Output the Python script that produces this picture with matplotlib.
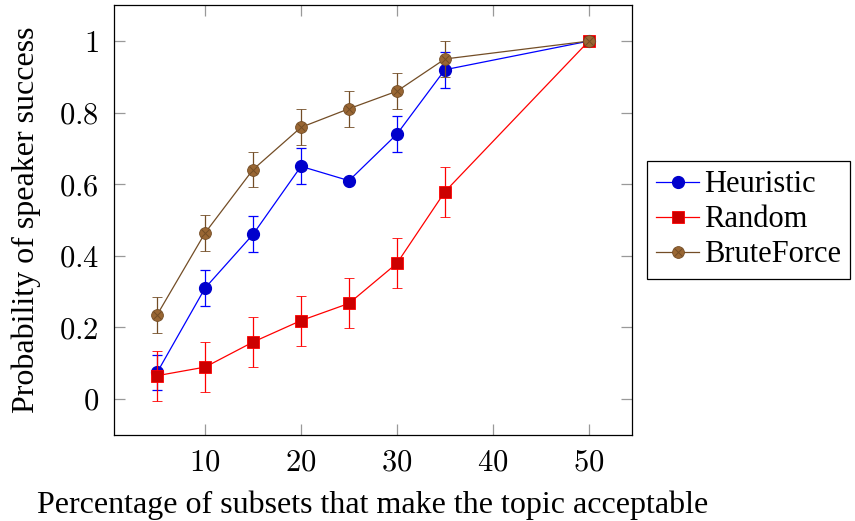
import matplotlib
matplotlib.use("Agg")
import matplotlib.pyplot as plt
from matplotlib.lines import Line2D
from matplotlib.ticker import FuncFormatter

# data
pct = [5, 10, 15, 20, 25, 30, 35, 50]

heuristic = [0.074, 0.31, 0.46, 0.65, 0.61, 0.74, 0.92, 1.0]
heuristic_err = [0.05, 0.05, 0.05, 0.05, 0.0, 0.05, 0.05, 0.0]

random_ = [0.065, 0.089, 0.159, 0.219, 0.267, 0.379, 0.579, 1.0]
random_err = [0.07, 0.07, 0.07, 0.07, 0.07, 0.07, 0.07, 0.0]

brute = [0.235, 0.464, 0.641, 0.759, 0.811, 0.86, 0.95, 1.0]
brute_err = [0.05, 0.05, 0.05, 0.05, 0.05, 0.05, 0.05, 0.0]

x_ticks = [10, 20, 30, 40, 50]
y_ticks = [0, 0.2, 0.4, 0.6, 0.8, 1.0]

# colours of the pgfplots default cycle list
blue_line, blue_fill = "#0000ff", "#0000cc"
red_line, red_fill = "#ff0000", "#cc0000"
brown_line, brown_fill = "#734d26", "#996633"

plt.rcParams["font.family"] = ["Liberation Serif", "DejaVu Serif"]
plt.rcParams["mathtext.fontset"] = "cm"
fs = 23

fig = plt.figure(figsize=(8.55, 5.21), dpi=100)
ax = fig.add_axes([0.1333, 0.1656, 0.6058, 0.8242])

ms = 8.5
lw = 0.9

ax.errorbar(pct, heuristic, yerr=heuristic_err, color=blue_line, lw=lw,
            marker="o", ms=ms, mfc=blue_fill, mec=blue_fill,
            capsize=3.8, elinewidth=lw, capthick=lw, zorder=3)
ax.errorbar(pct, random_, yerr=random_err, color=red_line, lw=lw,
            marker="s", ms=ms * 0.95, mfc=red_fill, mec=red_line, mew=0.6,
            capsize=3.8, elinewidth=lw, capthick=lw, zorder=4)
ax.errorbar(pct, brute, yerr=brute_err, color=brown_line, lw=lw,
            marker="o", ms=ms, mfc=brown_fill, mec=brown_line, mew=0.6,
            capsize=3.8, elinewidth=lw, capthick=lw, zorder=5)
# the cross inside the otimes marker
ax.plot(pct, brute, ls="none", marker="x", ms=ms * 0.65, mec=brown_line,
        mew=0.7, zorder=6)

ax.set_xlim(0.5, 54.5)
ax.set_ylim(-0.1, 1.1)
ax.set_xticks(x_ticks)
ax.set_yticks(y_ticks)
fmt = FuncFormatter(lambda v, p: "$%g$" % v)
ax.xaxis.set_major_formatter(fmt)
ax.yaxis.set_major_formatter(fmt)
ax.tick_params(direction="in", length=8, width=0.9, color="#999999",
               labelsize=22, top=True, right=True)
ax.tick_params(axis="x", pad=10)
ax.tick_params(axis="y", pad=11)
for s in ax.spines.values():
    s.set_linewidth(0.9)

ax.set_xlabel("Percentage of subsets that make the topic acceptable",
              fontsize=fs, labelpad=9)
ax.set_ylabel("Probability of speaker success", fontsize=fs, labelpad=13)

# legend handles, the brown one is circle + cross on top
h1 = Line2D([], [], color=blue_line, lw=lw, marker="o", ms=ms,
            mfc=blue_fill, mec=blue_fill)
h2 = Line2D([], [], color=red_line, lw=lw, marker="s", ms=ms * 0.95,
            mfc=red_fill, mec=red_line, mew=0.6)
h3a = Line2D([], [], color=brown_line, lw=lw, marker="o", ms=ms,
             mfc=brown_fill, mec=brown_line, mew=0.6)
h3b = Line2D([], [], ls="none", marker="x", ms=ms * 0.65, mec=brown_line, mew=0.7)

leg = fig.legend([h1, h2, (h3a, h3b)], ["Heuristic", "Random", "BruteForce"],
                 loc="center left", bbox_to_anchor=(0.757, 0.578),
                 fontsize=22, frameon=True, fancybox=False, framealpha=1,
                 edgecolor="black", handlelength=1.4, handletextpad=0.15,
                 labelspacing=0.2, borderpad=0.3, borderaxespad=0)
leg.get_frame().set_linewidth(0.9)

fig.savefig("out.png", dpi=100)
